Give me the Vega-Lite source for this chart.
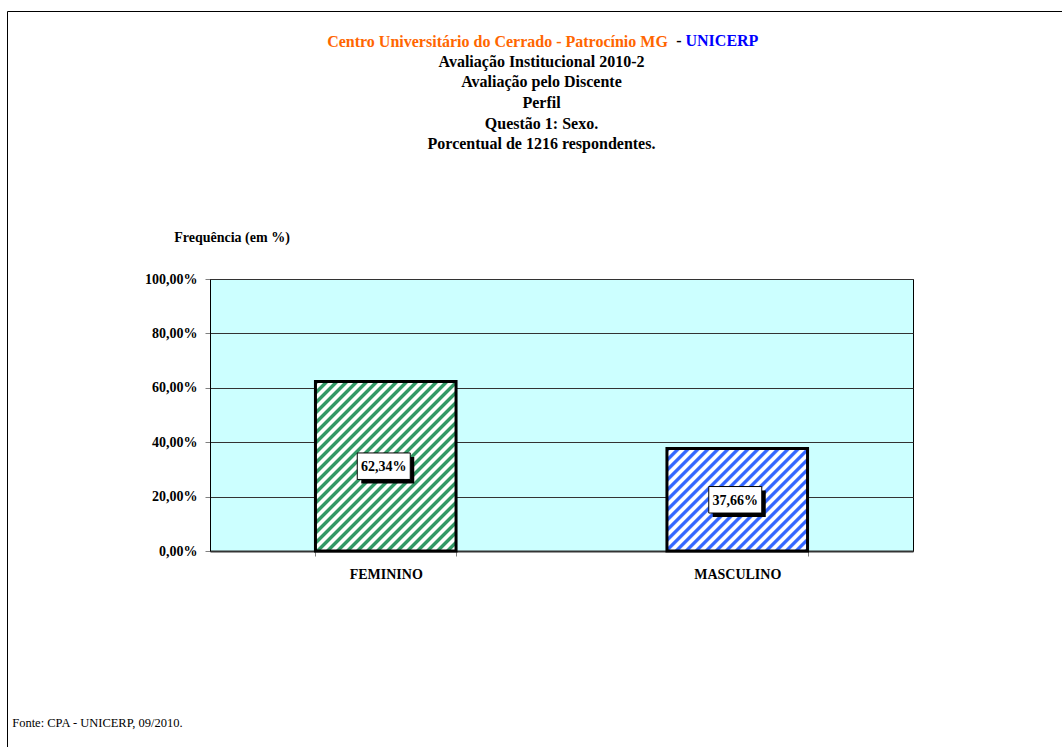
{
  "$schema": "https://vega.github.io/schema/vega-lite/v6.json",
  "width": 703,
  "height": 272,
  "autosize": {"type": "none"},
  "padding": {"left": 210, "top": 279, "right": 149, "bottom": 196},
  "background": "white",
  "config": {
    "locale": {"number": {"decimal": ",", "thousands": ".", "grouping": [3], "currency": ["R$", ""]}},
    "view": {"fill": "#CCFFFF", "stroke": "black", "strokeWidth": 1},
    "font": "Liberation Serif"
  },
  "title": {
    "text": "Centro Universitário do Cerrado - Patrocínio MG\u00a0\u00a0\u00a0\u00a0\u00a0\u00a0\u00a0\u00a0\u00a0\u00a0\u00a0\u00a0\u00a0\u00a0\u00a0\u00a0\u00a0\u00a0\u00a0\u00a0\u00a0\u00a0\u200b",
    "subtitle": ["Avaliação Institucional 2010-2", "Avaliação pelo Discente", "Perfil", "Questão 1: Sexo.", "Porcentual de 1216 respondentes."],
    "anchor": "middle",
    "frame": "group",
    "dx": -20,
    "offset": -142,
    "font": "Liberation Serif",
    "fontSize": 16,
    "fontWeight": "bold",
    "color": "#FF6600",
    "subtitleFont": "Liberation Serif",
    "subtitleFontSize": 16,
    "subtitleFontWeight": "bold",
    "subtitleColor": "black",
    "subtitleLineHeight": 20.7,
    "subtitlePadding": 4
  },
  "data": {"values": [
    {"sexo": "FEMININO", "pct": 0.6234},
    {"sexo": "MASCULINO", "pct": 0.3766}
  ]},
  "resolve": {"scale": {"y": "independent"}, "axis": {"x": "independent", "y": "independent"}},
  "layer": [
    {
      "transform": [{"filter": "datum.sexo == 'FEMININO'"}],
      "mark": {"type": "bar", "stroke": "black", "strokeWidth": 3, "fill": {"gradient": "linear", "x1": 0, "y1": 0, "x2": 1.1588, "y2": 1.3978, "stops": [
        {"offset":0,"color":"#339966"},{"offset":0.008,"color":"#339966"},{"offset":0.012,"color":"#FFFFFF"},{"offset":0.021,"color":"#FFFFFF"},
        {"offset":0.025,"color":"#339966"},{"offset":0.033,"color":"#339966"},{"offset":0.037,"color":"#FFFFFF"},{"offset":0.046,"color":"#FFFFFF"},
        {"offset":0.05,"color":"#339966"},{"offset":0.058,"color":"#339966"},{"offset":0.062,"color":"#FFFFFF"},{"offset":0.071,"color":"#FFFFFF"},
        {"offset":0.075,"color":"#339966"},{"offset":0.083,"color":"#339966"},{"offset":0.087,"color":"#FFFFFF"},{"offset":0.096,"color":"#FFFFFF"},
        {"offset":0.1,"color":"#339966"},{"offset":0.108,"color":"#339966"},{"offset":0.112,"color":"#FFFFFF"},{"offset":0.121,"color":"#FFFFFF"},
        {"offset":0.125,"color":"#339966"},{"offset":0.133,"color":"#339966"},{"offset":0.137,"color":"#FFFFFF"},{"offset":0.146,"color":"#FFFFFF"},
        {"offset":0.15,"color":"#339966"},{"offset":0.158,"color":"#339966"},{"offset":0.162,"color":"#FFFFFF"},{"offset":0.171,"color":"#FFFFFF"},
        {"offset":0.175,"color":"#339966"},{"offset":0.183,"color":"#339966"},{"offset":0.187,"color":"#FFFFFF"},{"offset":0.196,"color":"#FFFFFF"},
        {"offset":0.2,"color":"#339966"},{"offset":0.208,"color":"#339966"},{"offset":0.212,"color":"#FFFFFF"},{"offset":0.221,"color":"#FFFFFF"},
        {"offset":0.225,"color":"#339966"},{"offset":0.233,"color":"#339966"},{"offset":0.237,"color":"#FFFFFF"},{"offset":0.246,"color":"#FFFFFF"},
        {"offset":0.25,"color":"#339966"},{"offset":0.258,"color":"#339966"},{"offset":0.262,"color":"#FFFFFF"},{"offset":0.271,"color":"#FFFFFF"},
        {"offset":0.275,"color":"#339966"},{"offset":0.283,"color":"#339966"},{"offset":0.287,"color":"#FFFFFF"},{"offset":0.296,"color":"#FFFFFF"},
        {"offset":0.3,"color":"#339966"},{"offset":0.308,"color":"#339966"},{"offset":0.312,"color":"#FFFFFF"},{"offset":0.321,"color":"#FFFFFF"},
        {"offset":0.325,"color":"#339966"},{"offset":0.333,"color":"#339966"},{"offset":0.337,"color":"#FFFFFF"},{"offset":0.346,"color":"#FFFFFF"},
        {"offset":0.35,"color":"#339966"},{"offset":0.358,"color":"#339966"},{"offset":0.362,"color":"#FFFFFF"},{"offset":0.371,"color":"#FFFFFF"},
        {"offset":0.375,"color":"#339966"},{"offset":0.383,"color":"#339966"},{"offset":0.387,"color":"#FFFFFF"},{"offset":0.396,"color":"#FFFFFF"},
        {"offset":0.4,"color":"#339966"},{"offset":0.408,"color":"#339966"},{"offset":0.412,"color":"#FFFFFF"},{"offset":0.421,"color":"#FFFFFF"},
        {"offset":0.425,"color":"#339966"},{"offset":0.433,"color":"#339966"},{"offset":0.437,"color":"#FFFFFF"},{"offset":0.446,"color":"#FFFFFF"},
        {"offset":0.45,"color":"#339966"},{"offset":0.458,"color":"#339966"},{"offset":0.462,"color":"#FFFFFF"},{"offset":0.471,"color":"#FFFFFF"},
        {"offset":0.475,"color":"#339966"},{"offset":0.483,"color":"#339966"},{"offset":0.487,"color":"#FFFFFF"},{"offset":0.496,"color":"#FFFFFF"},
        {"offset":0.5,"color":"#339966"},{"offset":0.508,"color":"#339966"},{"offset":0.512,"color":"#FFFFFF"},{"offset":0.521,"color":"#FFFFFF"},
        {"offset":0.525,"color":"#339966"},{"offset":0.533,"color":"#339966"},{"offset":0.537,"color":"#FFFFFF"},{"offset":0.546,"color":"#FFFFFF"},
        {"offset":0.55,"color":"#339966"},{"offset":0.558,"color":"#339966"},{"offset":0.562,"color":"#FFFFFF"},{"offset":0.571,"color":"#FFFFFF"},
        {"offset":0.575,"color":"#339966"},{"offset":0.583,"color":"#339966"},{"offset":0.587,"color":"#FFFFFF"},{"offset":0.596,"color":"#FFFFFF"},
        {"offset":0.6,"color":"#339966"},{"offset":0.608,"color":"#339966"},{"offset":0.612,"color":"#FFFFFF"},{"offset":0.621,"color":"#FFFFFF"},
        {"offset":0.625,"color":"#339966"},{"offset":0.633,"color":"#339966"},{"offset":0.637,"color":"#FFFFFF"},{"offset":0.646,"color":"#FFFFFF"},
        {"offset":0.65,"color":"#339966"},{"offset":0.658,"color":"#339966"},{"offset":0.662,"color":"#FFFFFF"},{"offset":0.671,"color":"#FFFFFF"},
        {"offset":0.675,"color":"#339966"},{"offset":0.683,"color":"#339966"},{"offset":0.687,"color":"#FFFFFF"},{"offset":0.696,"color":"#FFFFFF"},
        {"offset":0.7,"color":"#339966"},{"offset":0.708,"color":"#339966"},{"offset":0.712,"color":"#FFFFFF"},{"offset":0.721,"color":"#FFFFFF"},
        {"offset":0.725,"color":"#339966"},{"offset":0.733,"color":"#339966"},{"offset":0.737,"color":"#FFFFFF"},{"offset":0.746,"color":"#FFFFFF"},
        {"offset":0.75,"color":"#339966"},{"offset":0.758,"color":"#339966"},{"offset":0.762,"color":"#FFFFFF"},{"offset":0.771,"color":"#FFFFFF"},
        {"offset":0.775,"color":"#339966"},{"offset":0.783,"color":"#339966"},{"offset":0.787,"color":"#FFFFFF"},{"offset":0.796,"color":"#FFFFFF"}
      ]}},
      "encoding": {
        "x": {"field": "sexo", "type": "nominal", "sort": null,
          "scale": {"domain": ["FEMININO", "MASCULINO"], "paddingInner": 0.6, "paddingOuter": 0.3},
          "axis": {"orient": "bottom", "tickBand": "extent", "labelAngle": 0, "labelFont": "Liberation Serif", "labelFontWeight": "bold", "labelFontSize": 14, "labelColor": "black", "labelPadding": 11, "tickSize": 5, "tickColor": "#808080", "domainColor": "#333333", "domainWidth": 2, "grid": false,
            "title": "UNICERP", "titleColor": "#0000FF", "titleFont": "Liberation Serif", "titleFontSize": 16, "titleFontWeight": "bold", "titleX": 475, "titleY": -505.5, "titleAlign": "left", "titleBaseline": "alphabetic", "titleAngle": 0}},
        "y": {"field": "pct", "type": "quantitative", "scale": {"domain": [0, 1]},
          "axis": {"orient": "left", "values": [0, 0.2, 0.4, 0.6, 0.8, 1], "format": ".2%", "labelFont": "Liberation Serif", "labelFontWeight": "bold", "labelFontSize": 14, "labelColor": "black", "labelPadding": 8, "tickSize": 5, "tickColor": "#808080", "domainColor": "black", "grid": true, "gridColor": "#333333", "gridOpacity": 1,
            "title": "Frequência (em %)", "titleFont": "Liberation Serif", "titleFontSize": 14, "titleFontWeight": "bold", "titleColor": "black", "titleAngle": 0, "titleX": 21.5, "titleY": -37.5, "titleAlign": "center", "titleBaseline": "alphabetic"}}
      }
    },
    {
      "transform": [{"filter": "datum.sexo == 'MASCULINO'"}],
      "mark": {"type": "bar", "stroke": "black", "strokeWidth": 3, "fill": {"gradient": "linear", "x1": 0, "y1": 0, "x2": 1.8584, "y2": 1.354, "stops": [
        {"offset":0,"color":"#3366FF"},{"offset":0.008,"color":"#3366FF"},{"offset":0.012,"color":"#FFFFFF"},{"offset":0.021,"color":"#FFFFFF"},
        {"offset":0.025,"color":"#3366FF"},{"offset":0.033,"color":"#3366FF"},{"offset":0.037,"color":"#FFFFFF"},{"offset":0.046,"color":"#FFFFFF"},
        {"offset":0.05,"color":"#3366FF"},{"offset":0.058,"color":"#3366FF"},{"offset":0.062,"color":"#FFFFFF"},{"offset":0.071,"color":"#FFFFFF"},
        {"offset":0.075,"color":"#3366FF"},{"offset":0.083,"color":"#3366FF"},{"offset":0.087,"color":"#FFFFFF"},{"offset":0.096,"color":"#FFFFFF"},
        {"offset":0.1,"color":"#3366FF"},{"offset":0.108,"color":"#3366FF"},{"offset":0.112,"color":"#FFFFFF"},{"offset":0.121,"color":"#FFFFFF"},
        {"offset":0.125,"color":"#3366FF"},{"offset":0.133,"color":"#3366FF"},{"offset":0.137,"color":"#FFFFFF"},{"offset":0.146,"color":"#FFFFFF"},
        {"offset":0.15,"color":"#3366FF"},{"offset":0.158,"color":"#3366FF"},{"offset":0.162,"color":"#FFFFFF"},{"offset":0.171,"color":"#FFFFFF"},
        {"offset":0.175,"color":"#3366FF"},{"offset":0.183,"color":"#3366FF"},{"offset":0.187,"color":"#FFFFFF"},{"offset":0.196,"color":"#FFFFFF"},
        {"offset":0.2,"color":"#3366FF"},{"offset":0.208,"color":"#3366FF"},{"offset":0.212,"color":"#FFFFFF"},{"offset":0.221,"color":"#FFFFFF"},
        {"offset":0.225,"color":"#3366FF"},{"offset":0.233,"color":"#3366FF"},{"offset":0.237,"color":"#FFFFFF"},{"offset":0.246,"color":"#FFFFFF"},
        {"offset":0.25,"color":"#3366FF"},{"offset":0.258,"color":"#3366FF"},{"offset":0.262,"color":"#FFFFFF"},{"offset":0.271,"color":"#FFFFFF"},
        {"offset":0.275,"color":"#3366FF"},{"offset":0.283,"color":"#3366FF"},{"offset":0.287,"color":"#FFFFFF"},{"offset":0.296,"color":"#FFFFFF"},
        {"offset":0.3,"color":"#3366FF"},{"offset":0.308,"color":"#3366FF"},{"offset":0.312,"color":"#FFFFFF"},{"offset":0.321,"color":"#FFFFFF"},
        {"offset":0.325,"color":"#3366FF"},{"offset":0.333,"color":"#3366FF"},{"offset":0.337,"color":"#FFFFFF"},{"offset":0.346,"color":"#FFFFFF"},
        {"offset":0.35,"color":"#3366FF"},{"offset":0.358,"color":"#3366FF"},{"offset":0.362,"color":"#FFFFFF"},{"offset":0.371,"color":"#FFFFFF"},
        {"offset":0.375,"color":"#3366FF"},{"offset":0.383,"color":"#3366FF"},{"offset":0.387,"color":"#FFFFFF"},{"offset":0.396,"color":"#FFFFFF"},
        {"offset":0.4,"color":"#3366FF"},{"offset":0.408,"color":"#3366FF"},{"offset":0.412,"color":"#FFFFFF"},{"offset":0.421,"color":"#FFFFFF"},
        {"offset":0.425,"color":"#3366FF"},{"offset":0.433,"color":"#3366FF"},{"offset":0.437,"color":"#FFFFFF"},{"offset":0.446,"color":"#FFFFFF"},
        {"offset":0.45,"color":"#3366FF"},{"offset":0.458,"color":"#3366FF"},{"offset":0.462,"color":"#FFFFFF"},{"offset":0.471,"color":"#FFFFFF"},
        {"offset":0.475,"color":"#3366FF"},{"offset":0.483,"color":"#3366FF"},{"offset":0.487,"color":"#FFFFFF"},{"offset":0.496,"color":"#FFFFFF"},
        {"offset":0.5,"color":"#3366FF"},{"offset":0.508,"color":"#3366FF"},{"offset":0.512,"color":"#FFFFFF"},{"offset":0.521,"color":"#FFFFFF"},
        {"offset":0.525,"color":"#3366FF"},{"offset":0.533,"color":"#3366FF"},{"offset":0.537,"color":"#FFFFFF"},{"offset":0.546,"color":"#FFFFFF"},
        {"offset":0.55,"color":"#3366FF"},{"offset":0.558,"color":"#3366FF"},{"offset":0.562,"color":"#FFFFFF"},{"offset":0.571,"color":"#FFFFFF"},
        {"offset":0.575,"color":"#3366FF"},{"offset":0.583,"color":"#3366FF"},{"offset":0.587,"color":"#FFFFFF"},{"offset":0.596,"color":"#FFFFFF"},
        {"offset":0.6,"color":"#3366FF"},{"offset":0.608,"color":"#3366FF"},{"offset":0.612,"color":"#FFFFFF"},{"offset":0.621,"color":"#FFFFFF"},
        {"offset":0.625,"color":"#3366FF"},{"offset":0.633,"color":"#3366FF"},{"offset":0.637,"color":"#FFFFFF"},{"offset":0.646,"color":"#FFFFFF"}
      ]}},
      "encoding": {
        "x": {"field": "sexo", "type": "nominal", "sort": null,
          "scale": {"domain": ["FEMININO", "MASCULINO"], "paddingInner": 0.6, "paddingOuter": 0.3}, "axis": null},
        "y": {"field": "pct", "type": "quantitative", "scale": {"domain": [0, 1]}, "axis": null}
      }
    },
    {
      "mark": {"type": "point", "shape": "M-1,-0.5H1V0.5H-1Z", "size": 2809, "filled": true, "fill": "black", "opacity": 1, "strokeWidth": 0, "xOffset": 2, "yOffset": 4},
      "encoding": {
        "x": {"field": "sexo", "type": "nominal", "sort": null,
          "scale": {"domain": ["FEMININO", "MASCULINO"], "paddingInner": 0.6, "paddingOuter": 0.3},
          "axis": {"orient": "top", "labels": false, "ticks": false, "domain": false, "grid": false,
            "title": "-", "titleColor": "black", "titleFont": "Liberation Serif", "titleFontSize": 16, "titleFontWeight": "bold", "titleX": 468.3, "titleY": -233.5, "titleAlign": "center", "titleBaseline": "alphabetic", "titleAngle": 0}},
        "y": {"field": "pct", "type": "quantitative", "scale": {"domain": [0, 2]},
          "axis": {"orient": "right", "labels": false, "ticks": false, "domain": false, "grid": false,
            "title": "Fonte: CPA - UNICERP, 09/2010.", "titleColor": "black", "titleFont": "Liberation Serif", "titleFontSize": 12.5, "titleFontWeight": "normal", "titleAngle": 0, "titleX": -901.3, "titleY": 447.7, "titleAlign": "left", "titleBaseline": "alphabetic"}}
      }
    },
    {
      "mark": {"type": "point", "shape": "M-1,-0.5H1V0.5H-1Z", "size": 2809, "filled": true, "fill": "white", "stroke": "black", "strokeWidth": 1, "xOffset": -2},
      "encoding": {
        "x": {"field": "sexo", "type": "nominal", "sort": null,
          "scale": {"domain": ["FEMININO", "MASCULINO"], "paddingInner": 0.6, "paddingOuter": 0.3}, "axis": null},
        "y": {"field": "pct", "type": "quantitative", "scale": {"domain": [0, 2]}, "axis": null},
        "opacity": {"field": "sexo", "type": "nominal", "scale": {"range": [1, 1]},
          "legend": {"orient": "none", "legendX": -203, "legendY": -268, "padding": 700, "strokeColor": "black", "title": null, "labelExpr": "''", "symbolOpacity": 0, "symbolStrokeWidth": 0}}
      }
    },
    {
      "mark": {"type": "text", "font": "Liberation Serif", "fontSize": 14, "fontWeight": "bold", "color": "black", "baseline": "middle", "align": "center", "xOffset": -2, "yOffset": 1},
      "encoding": {
        "x": {"field": "sexo", "type": "nominal", "sort": null,
          "scale": {"domain": ["FEMININO", "MASCULINO"], "paddingInner": 0.6, "paddingOuter": 0.3}, "axis": null},
        "y": {"field": "pct", "type": "quantitative", "scale": {"domain": [0, 2]}, "axis": null},
        "text": {"field": "pct", "type": "quantitative", "format": ".2%"}
      }
    }
  ]
}
